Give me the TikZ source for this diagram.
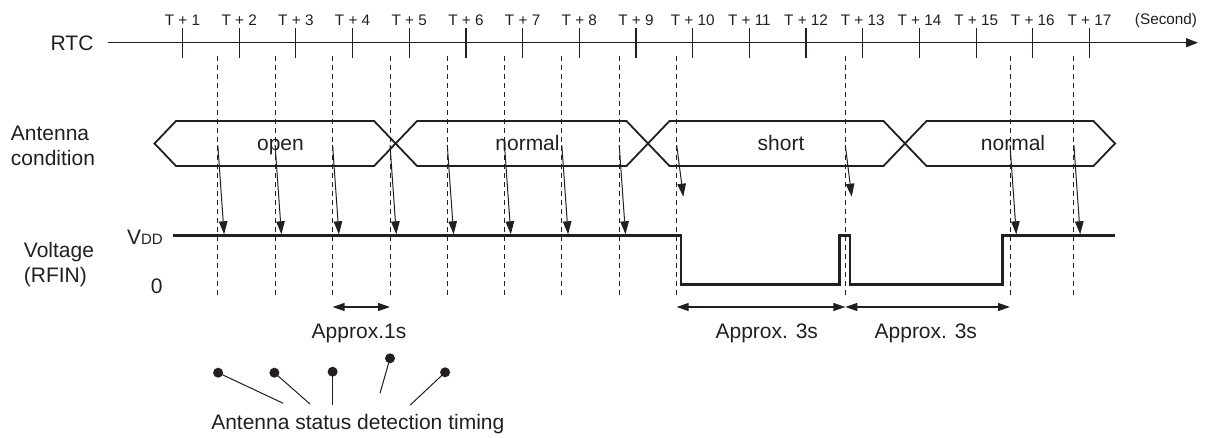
\documentclass[tikz,border=0pt]{standalone}
\usepackage{fontspec}
\setmainfont{Liberation Sans}
\usetikzlibrary{arrows.meta}
\definecolor{ink}{RGB}{35,31,32}
\begin{document}
\begin{tikzpicture}[x=1pt,y=-1pt,
  every node/.style={text=ink},
  lbl/.style={font=\fontsize{21}{25}\selectfont, inner sep=0pt},
  tlbl/.style={font=\fontsize{15.3}{18}\selectfont, inner sep=0pt, anchor=base},
  axisline/.style={draw=ink, line width=1.3pt, -{Triangle[length=12pt,width=9pt]}},
  tickline/.style={draw=ink, line width=1.2pt},
  guide/.style={draw=ink, line width=1pt, dash pattern=on 5pt off 4pt},
  hexa/.style={draw=ink, line width=1.8pt, line join=miter},
  sig/.style={draw=ink, line width=2.6pt, line join=miter},
  detect/.style={draw=ink, line width=1pt, -{Triangle[length=13pt,width=8.5pt]}},
  dimline/.style={draw=ink, line width=1.3pt, {Triangle[length=12pt,width=8pt]}-{Triangle[length=12pt,width=8pt]}},
  dotp/.style={circle, fill=ink, inner sep=0pt, minimum size=10pt},
  lead/.style={draw=ink, line width=1pt}
]
\useasboundingbox (0,0) rectangle (1211,437);

% RTC axis
\node[lbl, anchor=base west] (rtc) at (50.5,50.2) {RTC};
\coordinate (axs) at (108.3,42.7);
\coordinate (axe) at (1198,42.7);
\draw[axisline] (axs) -- (axe);
\foreach \k in {1,...,17} {
  \pgfmathsetmacro{\xx}{182.5+(\k-1)*56.69}
  \coordinate (tt\k) at (\xx,28.3);
  \coordinate (tb\k) at (\xx,57.7);
  \draw[tickline] (tt\k) -- (tb\k);
  \node[tlbl] (t\k) at (\xx,25.5) {T + \k};
}
\node[tlbl] (sec) at (1166,24.5) {(Second)};

% detection guides
\foreach \gx [count=\i] in {217.8,275.1,332.6,390,447.3,504.5,561.8,619.2,676.7,845.3,1010,1073.9} {
  \coordinate (gt\i) at (\gx,56);
  \coordinate (gb\i) at (\gx,296);
  \draw[guide] (gt\i) -- (gb\i);
}

% antenna condition
\node[lbl, anchor=base west] (ant1) at (10.7,140) {Antenna};
\node[lbl, anchor=base west] (ant2) at (10.7,165) {condition};
\foreach \l/\r [count=\i] in {154.5/395.6, 395.6/648, 648/905, 905/1115} {
  \draw[hexa] (\l,143.5) -- (\l+21.5,121) -- (\r-21.5,121) -- (\r,143.5)
     -- (\r-21.5,166) -- (\l+21.5,166) -- cycle;
}
\node[lbl, anchor=base] (copen) at (280.5,150.5) {open};
\node[lbl, anchor=base] (cnorm1) at (527.5,150.5) {normal};
\node[lbl, anchor=base] (cshort) at (781,150.5) {short};
\node[lbl, anchor=base] (cnorm2) at (1013,150.5) {normal};

% voltage
\node[lbl, anchor=base west] (vol1) at (23.7,257) {Voltage};
\node[lbl, anchor=base west] (vol2) at (23.7,282) {(RFIN)};
\node[lbl, anchor=base east] (vdd) at (163,244) {V{\fontsize{15}{18}\selectfont DD}};
\node[lbl, anchor=base] (zero) at (156.7,293.7) {0};
\draw[sig] (173.3,235.7) -- (681,235.7) -- (681,284.5) -- (839.3,284.5)
   -- (839.3,235.7) -- (850,235.7) -- (850,284.5) -- (1002.5,284.5)
   -- (1002.5,235.7) -- (1115,235.7);

% detection arrows
\foreach \gx [count=\i] in {217.8,275.1,332.6,390,447.3,504.5,561.8,619.2,1010,1073.9} {
  \coordinate (as\i) at (\gx,145);
  \coordinate (ae\i) at (\gx+6.3,234.3);
  \draw[detect] (as\i) -- (ae\i);
}
\coordinate (ss1) at (676.7,145);
\coordinate (se1) at (683.3,196.7);
\coordinate (ss2) at (845.3,145);
\coordinate (se2) at (851.7,196.7);
\draw[detect] (ss1) -- (se1);
\draw[detect] (ss2) -- (se2);

% dimensions
\coordinate (d1a) at (332.6,307);
\coordinate (d1b) at (390,307);
\coordinate (d2a) at (676.7,307);
\coordinate (d2b) at (845.3,307);
\coordinate (d3b) at (1010,307);
\draw[dimline] (d1a) -- (d1b);
\draw[dimline] (d2a) -- (d2b);
\draw[dimline] (d2b) -- (d3b);
\node[lbl, anchor=base] (ap1) at (359,338.5) {Approx.1s};
\node[lbl, anchor=base] (ap2) at (766.8,338.5) {Approx. 3s};
\node[lbl, anchor=base] (ap3) at (925.8,338.5) {Approx. 3s};

% detection timing legend
\node[dotp] (p1) at (218.1,372.7) {};
\node[dotp] (p2) at (274.4,372.7) {};
\node[dotp] (p3) at (332.6,371.7) {};
\node[dotp] (p4) at (390,358.3) {};
\node[dotp] (p5) at (445.1,372.3) {};
\coordinate (e1) at (283.2,403.3);
\coordinate (e2) at (310,404);
\coordinate (e3) at (332.6,405);
\coordinate (e4) at (380,393.3);
\coordinate (e5) at (410.3,405);
\foreach \i in {1,...,5} { \draw[lead] (p\i.center) -- (e\i); }
\node[lbl, anchor=base] (legend) at (357.8,429.5) {Antenna status detection timing};
\end{tikzpicture}
\end{document}
